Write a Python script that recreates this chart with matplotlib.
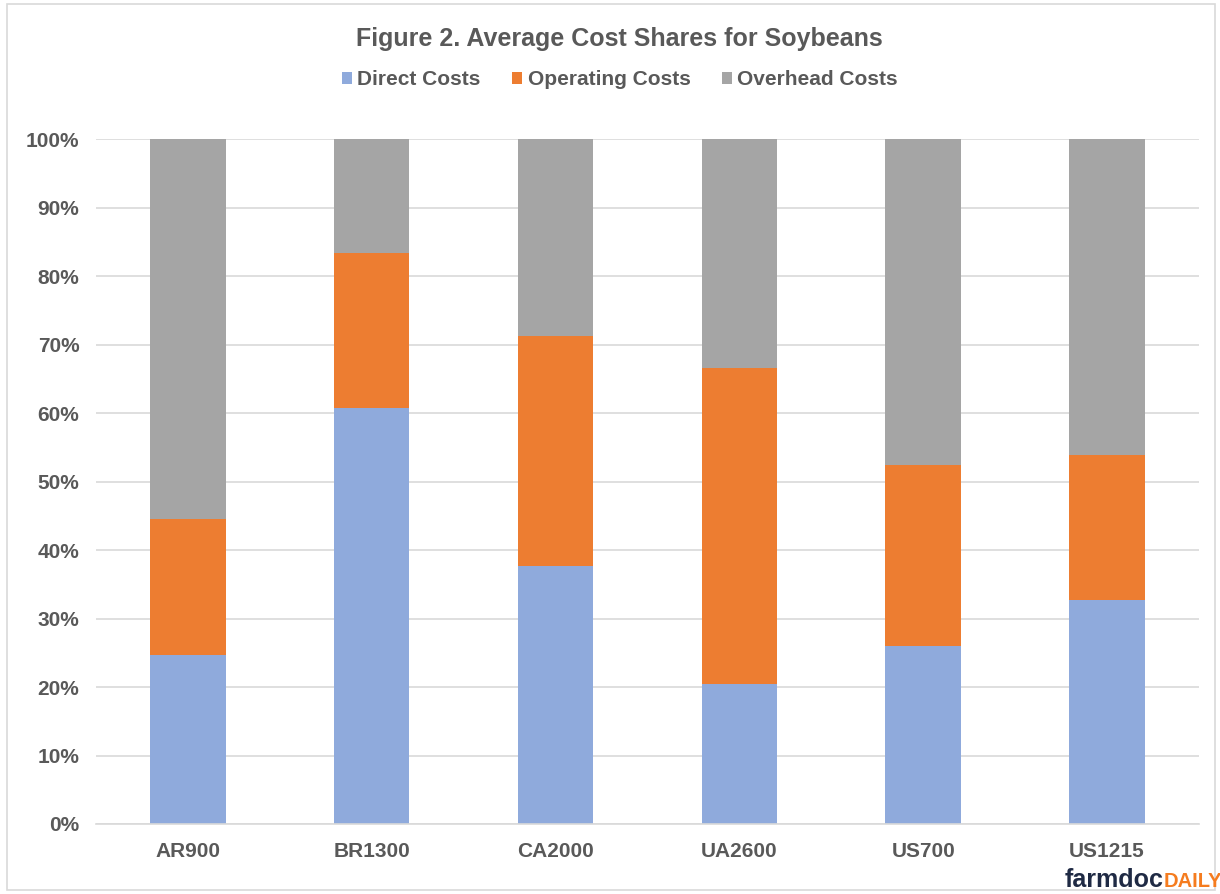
import numpy as np
import matplotlib
matplotlib.use('Agg')
from matplotlib import pyplot as plt
from matplotlib.patches import Rectangle

# data (shares, %)
categories = ['AR900', 'BR1300', 'CA2000', 'UA2600', 'US700', 'US1215']
direct = [24.6, 60.7, 37.6, 20.4, 26.0, 32.7]
operating = [19.9, 22.7, 33.6, 46.2, 26.4, 21.1]
overhead = [100 - d - o for d, o in zip(direct, operating)]

series_names = ['Direct Costs', 'Operating Costs', 'Overhead Costs']
colors = ['#8FAADC', '#ED7D31', '#A5A5A5']
txt = '#595959'

plt.rcParams['font.family'] = ['Liberation Sans', 'DejaVu Sans']

fig = plt.figure(figsize=(12.2, 8.94), dpi=100)
ax = fig.add_axes([0.0787, 0.0783, 0.904, 0.7662])

x = np.arange(len(categories))
w = 0.41
bottom = np.zeros(len(categories))
for vals, name, c in zip([direct, operating, overhead], series_names, colors):
    ax.bar(x, vals, w, bottom=bottom, color=c, label=name, zorder=2)
    bottom += np.array(vals)

ax.set_xlim(-0.5, len(categories) - 0.5)
ax.set_ylim(0, 100)
ax.set_yticks(np.arange(0, 101, 10))
ax.set_yticklabels([f'{v}%' for v in range(0, 101, 10)])
ax.set_xticks(x)
ax.set_xticklabels(categories)
ax.grid(axis='y', color='#D9D9D9', linewidth=1.2, zorder=0)
for s in ['top', 'right', 'left']:
    ax.spines[s].set_visible(False)
ax.spines['bottom'].set_color('#D9D9D9')
ax.spines['bottom'].set_linewidth(1.2)
ax.tick_params(length=0, labelsize=15, labelcolor=txt, pad=12)
ax.tick_params(axis='x', pad=13)
for lab in ax.get_xticklabels() + ax.get_yticklabels():
    lab.set_fontweight('bold')

fig.text(0.508, 0.956, 'Figure 2. Average Cost Shares for Soybeans', ha='center', va='center',
         fontsize=18, fontweight='bold', color=txt)
fig.legend(loc='center', bbox_to_anchor=(0.508, 0.911), ncol=3, frameon=False,
           prop={'size': 15, 'weight': 'bold'}, labelcolor=txt,
           handlelength=0.5, handleheight=0.5, handletextpad=0.25, columnspacing=1.5)

# chart border
fig.patches.append(Rectangle((0.006, 0.004), 0.99, 0.992, transform=fig.transFigure,
                             fill=False, edgecolor='#D9D9D9', linewidth=1.2))

# watermark
t1 = fig.text(0.873, 0.008, 'farmdoc', fontsize=18, fontweight='bold', color='#1F2A44',
              ha='left', va='baseline')
fig.canvas.draw()
bb = t1.get_window_extent()
fig.text(bb.x1 / fig.bbox.width, 0.008, 'DAILY', fontsize=14.5, fontweight='bold',
         color='#F57C1F', ha='left', va='baseline')

fig.savefig('out.png', dpi=100)
